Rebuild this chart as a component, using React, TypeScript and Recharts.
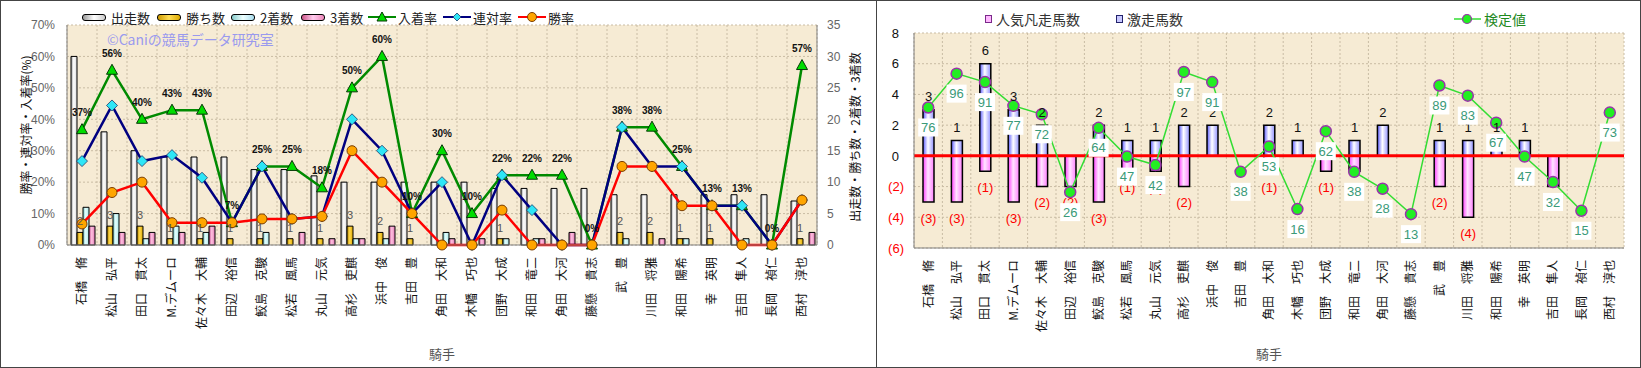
import React from "react";
import {
  ComposedChart,
  Bar,
  Line,
  XAxis,
  YAxis,
  CartesianGrid,
  LabelList,
  ReferenceLine,
} from "recharts";

const JP = '"Noto Sans CJK JP", "Noto Sans", sans-serif';
const NUM = '"Liberation Sans", Arial, sans-serif';

const jockeys = [
  "石橋　脩", "松山　弘平", "田口　貫太", "M.デムーロ", "佐々木　大輔",
  "田辺　裕信", "鮫島　克駿", "松若　風馬", "丸山　元気", "高杉　吏麒",
  "浜中　俊", "吉田　豊", "角田　大和", "木幡　巧也", "団野　大成",
  "和田　竜二", "角田　大河", "藤懸　貴志", "武　豊", "川田　将雅",
  "和田　陽希", "幸　英明", "吉田　隼人", "長岡　禎仁", "西村　淳也",
];

// left panel: counts
const starts = [30, 18, 15, 14, 14, 14, 12, 12, 11, 10, 10, 10, 10, 10, 9, 9, 9, 9, 8, 8, 8, 8, 8, 8, 7];
const wins = [2, 3, 3, 1, 1, 1, 1, 1, 1, 3, 2, 1, 0, 0, 1, 0, 0, 0, 2, 2, 1, 1, 0, 0, 1];
const seconds = [6, 5, 1, 3, 2, 0, 2, 0, 0, 1, 1, 0, 2, 0, 1, 1, 0, 0, 1, 0, 1, 0, 1, 0, 0];
const thirds = [3, 2, 2, 2, 3, 0, 0, 2, 1, 1, 3, 0, 1, 1, 0, 1, 2, 0, 0, 1, 0, 0, 0, 0, 2];

// left panel: rates (%)
const winRate = [6.7, 16.7, 20, 7.1, 7.1, 7.1, 8.3, 8.3, 9.1, 30, 20, 10, 0, 0, 11.1, 0, 0, 0, 25, 25, 12.5, 12.5, 0, 0, 14.3];
const rentaiRate = [26.7, 44.4, 26.7, 28.6, 21.4, 7.1, 25, 8.3, 9.1, 40, 30, 10, 20, 0, 22.2, 11.1, 0, 0, 37.5, 25, 25, 12.5, 12.5, 0, 14.3];
const placeRate = [36.7, 55.6, 40, 42.9, 42.9, 7.1, 25, 25, 18.2, 50, 60, 10, 30, 10, 22.2, 22.2, 22.2, 0, 37.5, 37.5, 25, 12.5, 12.5, 0, 57.1];

// right panel
const gekisou = [3, 1, 6, 3, 2, 0, 2, 1, 1, 2, 2, 0, 2, 1, 0, 1, 2, 0, 1, 1, 1, 1, 0, 0, 0];
const bonsou = [3, 3, 1, 3, 2, 2, 3, 1, 1, 2, 0, 0, 1, 0, 1, 1, 0, 0, 2, 4, 0, 0, 2, 0, 0];
const kentei = [76, 96, 91, 77, 72, 26, 64, 47, 42, 97, 91, 38, 53, 16, 62, 38, 28, 13, 89, 83, 67, 47, 32, 15, 73];

const rateTicks = [0, 10, 20, 30, 40, 50, 60, 70];
const countTicks = [0, 5, 10, 15, 20, 25, 30, 35];
const rightTicks = [-6, -4, -2, 0, 2, 4, 6, 8];

const leftData = jockeys.map((name, i) => ({
  name,
  starts: starts[i],
  wins: wins[i],
  seconds: seconds[i],
  thirds: thirds[i],
  winRate: winRate[i],
  rentaiRate: rentaiRate[i],
  placeRate: placeRate[i],
}));

const rightData = jockeys.map((name, i) => ({
  name,
  gekisou: gekisou[i],
  bonsou: -bonsou[i],
  kentei: kentei[i],
}));

const BG = "#f6ebd4";
const GRID = "#c9bca4";

function NameTick(props: any) {
  const { x, y, payload } = props;
  const ty = y + 12;
  return (
    <text
      x={x}
      y={ty}
      transform={`rotate(-90 ${x} ${ty})`}
      textAnchor="end"
      dy="0.36em"
      fontSize={12}
      fontFamily={JP}
      fill="#111"
    >
      {payload.value}
    </text>
  );
}

function RightYTick(props: any) {
  const { x, y, payload } = props;
  const v = payload.value;
  if (v < 0) {
    return (
      <text x={x - 10} y={y} dy="0.36em" textAnchor="end" fontSize={13} fontFamily={NUM} fill="#ff0000">
        ({-v})
      </text>
    );
  }
  return (
    <text x={x - 15} y={y} dy="0.36em" textAnchor="end" fontSize={13} fontFamily={NUM} fill="#111">
      {v}
    </text>
  );
}

const triangleDot = (p: any) => {
  const { cx, cy, index } = p;
  return (
    <polygon
      key={`t${index}`}
      points={`${cx},${cy - 6} ${cx - 5.5},${cy + 4} ${cx + 5.5},${cy + 4}`}
      fill="#00dd00"
      stroke="#063806"
      strokeWidth={1}
    />
  );
};

const diamondDot = (p: any) => {
  const { cx, cy, index } = p;
  return (
    <polygon
      key={`d${index}`}
      points={`${cx},${cy - 5.5} ${cx + 5.5},${cy} ${cx},${cy + 5.5} ${cx - 5.5},${cy}`}
      fill="#2ee6f6"
      stroke="#1a3a6a"
      strokeWidth={0.8}
    />
  );
};

const circleDot = (p: any) => {
  const { cx, cy, index } = p;
  return <circle key={`c${index}`} cx={cx} cy={cy} r={5} fill="#ffa500" stroke="#7a3d00" strokeWidth={1} />;
};

const kenteiDot = (p: any) => {
  const { cx, cy, index } = p;
  return <circle key={`k${index}`} cx={cx} cy={cy} r={5.5} fill="#22ee22" stroke="#9933aa" strokeWidth={1.5} />;
};

const PlaceLabel = (p: any) => {
  const { x, y, value } = p;
  return (
    <text x={x} y={y - 17} dy="0.36em" textAnchor="middle" fontSize={10} fontWeight="bold" fontFamily={NUM} fill="#111">
      {`${Math.round(value)}%`}
    </text>
  );
};

const WinLabel = (p: any) => {
  const { x, y, width, value } = p;
  if (!value) return null;
  return (
    <text x={x + width / 2} y={y - 11} dy="0.36em" textAnchor="middle" fontSize={11} fontFamily={NUM} fill="#555">
      {value}
    </text>
  );
};

const GekiLabel = (p: any) => {
  const { x, y, width, height, value } = p;
  if (!value) return null;
  const top = Math.min(y, y + height);
  return (
    <text x={x + width / 2} y={top - 13} dy="0.36em" textAnchor="middle" fontSize={13} fontFamily={NUM} fill="#111">
      {value}
    </text>
  );
};

const BonLabel = (p: any) => {
  const { x, y, width, height, value } = p;
  if (!value) return null;
  const bottom = Math.max(y, y + height);
  return (
    <text x={x + width / 2} y={bottom + 16} dy="0.36em" textAnchor="middle" fontSize={13} fontFamily={NUM} fill="#ff0000">
      ({-value})
    </text>
  );
};

const KenteiLabel = (p: any) => {
  const { x, y, value } = p;
  const cy = y + 20;
  return (
    <g>
      <rect x={x - 10} y={cy - 9} width={20} height={18} fill="#ffffff" />
      <text x={x} y={cy} dy="0.36em" textAnchor="middle" fontSize={13} fontFamily={NUM} fill="#3a9a78">
        {value}
      </text>
    </g>
  );
};

const bandLines = (n: number) => (props: any) => {
  const { offset } = props;
  return Array.from({ length: n + 1 }, (_, i) => offset.left + (i * offset.width) / n);
};

function grad(id: string, edge: string, mid: string, edge2: string) {
  return (
    <linearGradient id={id} x1="0" y1="0" x2="1" y2="0">
      <stop offset="0%" stopColor={edge} />
      <stop offset="45%" stopColor={mid} />
      <stop offset="100%" stopColor={edge2} />
    </linearGradient>
  );
}

function BarKey({ left, color, label }: { left: number; color: string; label: string }) {
  return (
    <div style={{ position: "absolute", left, top: 9, height: 16, display: "flex", alignItems: "center", whiteSpace: "nowrap" }}>
      <span
        style={{
          display: "inline-block",
          width: 22,
          height: 5,
          border: "1px solid #000",
          borderRadius: 3,
          background: color,
          marginRight: 5,
        }}
      />
      {label}
    </div>
  );
}

function LineKey({ left, color, marker, label }: { left: number; color: string; marker: React.ReactNode; label: string }) {
  return (
    <div style={{ position: "absolute", left, top: 9, height: 16, display: "flex", alignItems: "center", whiteSpace: "nowrap" }}>
      <svg width={28} height={12} style={{ marginRight: 2 }}>
        <line x1={0} y1={6} x2={28} y2={6} stroke={color} strokeWidth={2} />
        {marker}
      </svg>
      {label}
    </div>
  );
}

function LeftChart() {
  return (
    <div style={{ position: "absolute", left: 0, top: 0, width: 877, height: 368 }}>
      <ComposedChart
        width={877}
        height={368}
        data={leftData}
        margin={{ top: 25, right: 0, bottom: 0, left: 0 }}
        barCategoryGap={4}
        barGap={0}
      >
        <defs>
          {grad("gWhite", "#9a9a9a", "#ffffff", "#d8d8d8")}
          {grad("gGold", "#b88a00", "#ffd84a", "#dca800")}
          {grad("gCyan", "#7cc8c8", "#e6ffff", "#a8e6e6")}
          {grad("gPink", "#c0508e", "#ffc0e0", "#e07ab4")}
        </defs>
        <CartesianGrid
          yAxisId="rate"
          fill={BG}
          stroke={GRID}
          strokeDasharray="2 2"
          verticalCoordinatesGenerator={bandLines(jockeys.length)}
        />
        <XAxis
          dataKey="name"
          interval={0}
          height={123}
          tickSize={0}
          tickMargin={0}
          tick={<NameTick />}
          axisLine={{ stroke: "#808080" }}
        />
        <YAxis
          yAxisId="rate"
          width={67}
          domain={[0, 70]}
          ticks={rateTicks}
          tickFormatter={(v) => `${v}%`}
          tickSize={0}
          tickMargin={12}
          tick={{ fontSize: 12, fill: "#666", fontFamily: NUM }}
          axisLine={{ stroke: "#808080" }}
        />
        <YAxis
          yAxisId="count"
          orientation="right"
          width={60}
          domain={[0, 35]}
          ticks={countTicks}
          tickSize={0}
          tickMargin={10}
          tick={{ fontSize: 12, fill: "#666", fontFamily: NUM }}
          axisLine={{ stroke: "#808080" }}
        />
        <Bar yAxisId="count" dataKey="starts" fill="url(#gWhite)" stroke="#000" strokeWidth={1} isAnimationActive={false} />
        <Bar yAxisId="count" dataKey="wins" fill="url(#gGold)" stroke="#000" strokeWidth={1} isAnimationActive={false}>
          <LabelList dataKey="wins" content={<WinLabel />} />
        </Bar>
        <Bar yAxisId="count" dataKey="seconds" fill="url(#gCyan)" stroke="#000" strokeWidth={1} isAnimationActive={false} />
        <Bar yAxisId="count" dataKey="thirds" fill="url(#gPink)" stroke="#000" strokeWidth={1} isAnimationActive={false} />
        <Line
          yAxisId="rate"
          dataKey="placeRate"
          stroke="#008a00"
          strokeWidth={2.5}
          dot={triangleDot}
          isAnimationActive={false}
        >
          <LabelList dataKey="placeRate" content={<PlaceLabel />} />
        </Line>
        <Line
          yAxisId="rate"
          dataKey="rentaiRate"
          stroke="#000080"
          strokeWidth={2.5}
          dot={diamondDot}
          isAnimationActive={false}
        />
        <Line
          yAxisId="rate"
          dataKey="winRate"
          stroke="#ff0000"
          strokeWidth={2.5}
          dot={circleDot}
          isAnimationActive={false}
        />
      </ComposedChart>
      <div style={{ position: "absolute", left: 0, top: 0, fontSize: 13, fontFamily: JP, color: "#222" }}>
        <BarKey left={82} color="linear-gradient(90deg,#999,#fff,#ccc)" label="出走数" />
        <BarKey left={157} color="linear-gradient(90deg,#c90,#fd5,#da0)" label="勝ち数" />
        <BarKey left={231} color="linear-gradient(90deg,#8cc,#eff,#ade)" label="2着数" />
        <BarKey left={301} color="linear-gradient(90deg,#c58,#fce,#e8b)" label="3着数" />
        <LineKey
          left={368}
          color="#008a00"
          label="入着率"
          marker={<polygon points="14,1 9,10 19,10" fill="#00dd00" stroke="#063806" />}
        />
        <LineKey
          left={443}
          color="#000080"
          label="連対率"
          marker={<polygon points="14,2 18,6 14,10 10,6" fill="#2ee6f6" stroke="#1a3a6a" strokeWidth={0.8} />}
        />
        <LineKey
          left={518}
          color="#ff0000"
          label="勝率"
          marker={<circle cx={14} cy={6} r={4.5} fill="#ffa500" stroke="#7a3d00" />}
        />
      </div>
      <div
        style={{
          position: "absolute",
          left: 107,
          top: 29,
          fontSize: 14,
          fontFamily: JP,
          color: "#9a9aee",
          whiteSpace: "nowrap",
        }}
      >
        ©Caniの競馬データ研究室
      </div>
      <div
        style={{
          position: "absolute",
          left: 25,
          top: 125,
          transform: "translate(-50%, -50%) rotate(-90deg)",
          fontSize: 12,
          fontFamily: JP,
          color: "#111",
          whiteSpace: "nowrap",
        }}
      >
        勝率・連対率・入着率(%)
      </div>
      <div
        style={{
          position: "absolute",
          left: 854,
          top: 137,
          transform: "translate(-50%, -50%) rotate(-90deg)",
          fontSize: 12,
          fontFamily: JP,
          color: "#111",
          whiteSpace: "nowrap",
        }}
      >
        出走数・勝ち数・2着数・3着数
      </div>
      <div
        style={{
          position: "absolute",
          left: 442,
          top: 353,
          transform: "translate(-50%, -50%)",
          fontSize: 13,
          fontFamily: JP,
          color: "#555",
        }}
      >
        騎手
      </div>
    </div>
  );
}

function RightChart() {
  return (
    <div style={{ position: "absolute", left: 877, top: 0, width: 764, height: 368 }}>
      <ComposedChart
        width={764}
        height={368}
        data={rightData}
        margin={{ top: 33, right: 17, bottom: 0, left: 0 }}
        stackOffset="sign"
        barSize={11}
      >
        <defs>
          {grad("gBlue", "#5a5aff", "#ffffff", "#9090ff")}
          {grad("gMag", "#ff3cff", "#ffe4ff", "#ff80ff")}
        </defs>
        <CartesianGrid
          yAxisId="main"
          fill={BG}
          stroke={GRID}
          strokeDasharray="2 2"
          verticalCoordinatesGenerator={bandLines(jockeys.length)}
        />
        <XAxis
          dataKey="name"
          interval={0}
          height={120}
          tickSize={0}
          tickMargin={0}
          tick={<NameTick />}
          axisLine={{ stroke: "#808080" }}
        />
        <YAxis
          yAxisId="main"
          width={37}
          domain={[-6, 8]}
          ticks={rightTicks}
          tickSize={0}
          tickMargin={0}
          tick={<RightYTick />}
          axisLine={{ stroke: "#808080" }}
        />
        <YAxis yAxisId="kentei" orientation="right" width={0} domain={[-7, 120]} hide />
        <Bar yAxisId="main" dataKey="gekisou" stackId="s" fill="url(#gBlue)" stroke="#000" strokeWidth={1.5} isAnimationActive={false}>
          <LabelList dataKey="gekisou" content={<GekiLabel />} />
        </Bar>
        <Bar yAxisId="main" dataKey="bonsou" stackId="s" fill="url(#gMag)" stroke="#000" strokeWidth={1.5} isAnimationActive={false}>
          <LabelList dataKey="bonsou" content={<BonLabel />} />
        </Bar>
        <ReferenceLine yAxisId="main" y={0} stroke="#ff0000" strokeWidth={3} />
        <Line
          yAxisId="kentei"
          dataKey="kentei"
          stroke="#33dd33"
          strokeWidth={1.5}
          dot={kenteiDot}
          isAnimationActive={false}
        >
          <LabelList dataKey="kentei" content={<KenteiLabel />} />
        </Line>
      </ComposedChart>
      <div
        style={{
          position: "absolute",
          left: 108,
          top: 9,
          fontSize: 14,
          fontFamily: JP,
          color: "#333",
          whiteSpace: "nowrap",
          display: "flex",
          alignItems: "center",
        }}
      >
        <span style={{ display: "inline-block", width: 5, height: 6, border: "1px solid #7a2a8a", background: "#ffb8ff", marginRight: 4 }} />
        <span style={{ marginRight: 36 }}>人気凡走馬数</span>
        <span style={{ display: "inline-block", width: 5, height: 6, border: "1px solid #22226a", background: "#c8c8ff", marginRight: 4 }} />
        <span>激走馬数</span>
      </div>
      <div
        style={{
          position: "absolute",
          left: 577,
          top: 9,
          fontSize: 14,
          fontFamily: JP,
          color: "#1f8a1f",
          whiteSpace: "nowrap",
          display: "flex",
          alignItems: "center",
        }}
      >
        <svg width={27} height={12} style={{ marginRight: 3 }}>
          <line x1={0} y1={6} x2={27} y2={6} stroke="#33dd33" strokeWidth={1.5} />
          <circle cx={13} cy={6} r={4.5} fill="#22ee22" stroke="#9933aa" strokeWidth={1.2} />
        </svg>
        検定値
      </div>
      <div
        style={{
          position: "absolute",
          left: 392,
          top: 353,
          transform: "translate(-50%, -50%)",
          fontSize: 13,
          fontFamily: JP,
          color: "#555",
        }}
      >
        騎手
      </div>
    </div>
  );
}

export default function App() {
  return (
    <div
      style={{
        position: "absolute",
        left: 0,
        top: 0,
        width: 1641,
        height: 368,
        background: "#ffffff",
        overflow: "hidden",
      }}
    >
      <LeftChart />
      <RightChart />
      <div style={{ position: "absolute", left: 0, top: 0, width: 877, height: 368, border: "1px solid #444", boxSizing: "border-box", pointerEvents: "none" }} />
      <div style={{ position: "absolute", left: 876, top: 0, width: 765, height: 368, border: "1px solid #444", boxSizing: "border-box", pointerEvents: "none" }} />
    </div>
  );
}
